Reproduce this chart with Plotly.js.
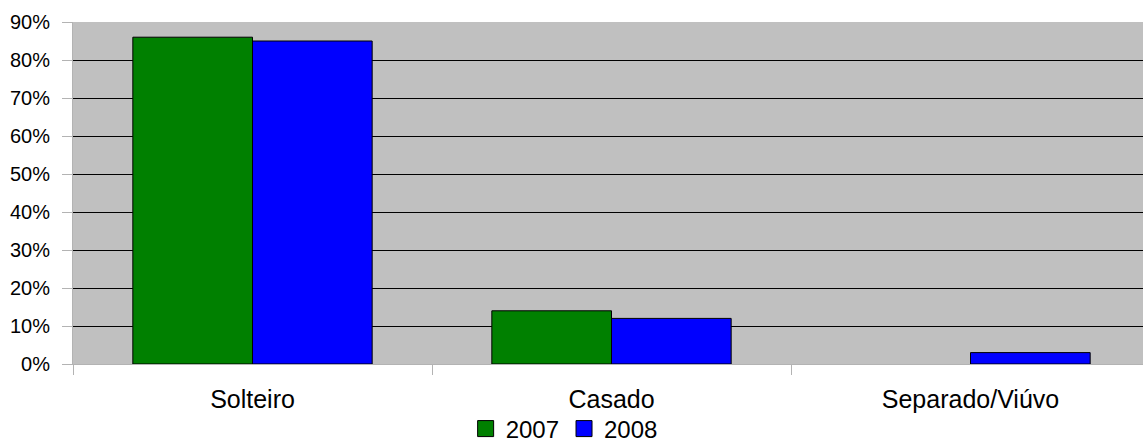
<!DOCTYPE html>
<html>
<head>
<meta charset="utf-8">
<script src="https://cdn.plot.ly/plotly-3.0.1.min.js"></script>
<style>
  html, body { margin: 0; padding: 0; background: #fff; }
  #chart { width: 1143px; height: 444px; }
</style>
</head>
<body>
<div id="chart"></div>
<script>
// Estado civil, share of respondents per year
const categories = ['Solteiro', 'Casado', 'Separado/Viúvo'];
const years = ['2007', '2008'];
const values2007 = [0.86, 0.14, 0.00];
const values2008 = [0.85, 0.12, 0.03];
const yTicks = [0, 0.1, 0.2, 0.3, 0.4, 0.5, 0.6, 0.7, 0.8, 0.9];

const colors = ['#008000', '#0000ff'];
const series = [values2007, values2008];

const bars = series.map((vals, i) => ({
  type: 'bar',
  name: years[i],
  x: categories,
  y: vals,
  // empty bars get no outline
  marker: { color: colors[i], line: { color: '#000', width: vals.map(v => (v > 0 ? 1 : 0)) } },
  showlegend: false,
  hoverinfo: 'x+y+name'
}));

// legend entries with larger square swatches
const legendEntries = years.map((yr, i) => ({
  type: 'scatter',
  mode: 'markers',
  name: yr,
  x: [null],
  y: [null],
  marker: { symbol: 'square', size: 16, color: colors[i], line: { color: '#000', width: 1 } },
  showlegend: true,
  hoverinfo: 'skip'
}));

const layout = {
  width: 1143,
  height: 444,
  margin: { l: 73, r: 0, t: 22, b: 80, autoexpand: false },
  paper_bgcolor: '#ffffff',
  plot_bgcolor: '#c0c0c0',
  font: { family: '"Liberation Sans", Arial, sans-serif', color: '#000' },
  barmode: 'group',
  bargap: 1 / 3,
  bargroupgap: 0,
  showlegend: true,
  legend: {
    orientation: 'h',
    x: 0.459,
    xanchor: 'center',
    y: -0.19,
    yanchor: 'middle',
    font: { size: 24, color: '#000' },
    itemsizing: 'trace',
    bgcolor: 'rgba(0,0,0,0)'
  },
  xaxis: {
    type: 'category',
    categoryorder: 'array',
    categoryarray: categories,
    range: [-0.5, 2.4805],
    showgrid: false,
    showline: true,
    linecolor: '#b3b3b3',
    linewidth: 1,
    ticks: 'outside',
    tickson: 'boundaries',
    ticklen: 10,
    tickcolor: '#b3b3b3',
    tickwidth: 1,
    ticklabelstandoff: 13,
    tickfont: { size: 25, color: '#000' },
    automargin: false,
    fixedrange: true
  },
  yaxis: {
    range: [0, 0.9],
    tickvals: yTicks,
    tickformat: '.0%',
    showgrid: true,
    gridcolor: '#000000',
    gridwidth: 1,
    zeroline: true,
    zerolinecolor: '#b3b3b3',
    zerolinewidth: 1,
    showline: true,
    linecolor: '#b3b3b3',
    linewidth: 1,
    ticks: 'outside',
    ticklen: 10,
    tickcolor: '#b3b3b3',
    tickwidth: 1,
    ticklabelstandoff: 8,
    tickfont: { size: 20, color: '#000' },
    automargin: false,
    fixedrange: true
  }
};

Plotly.newPlot('chart', bars.concat(legendEntries), layout, { displayModeBar: false, staticPlot: true });
</script>
</body>
</html>
